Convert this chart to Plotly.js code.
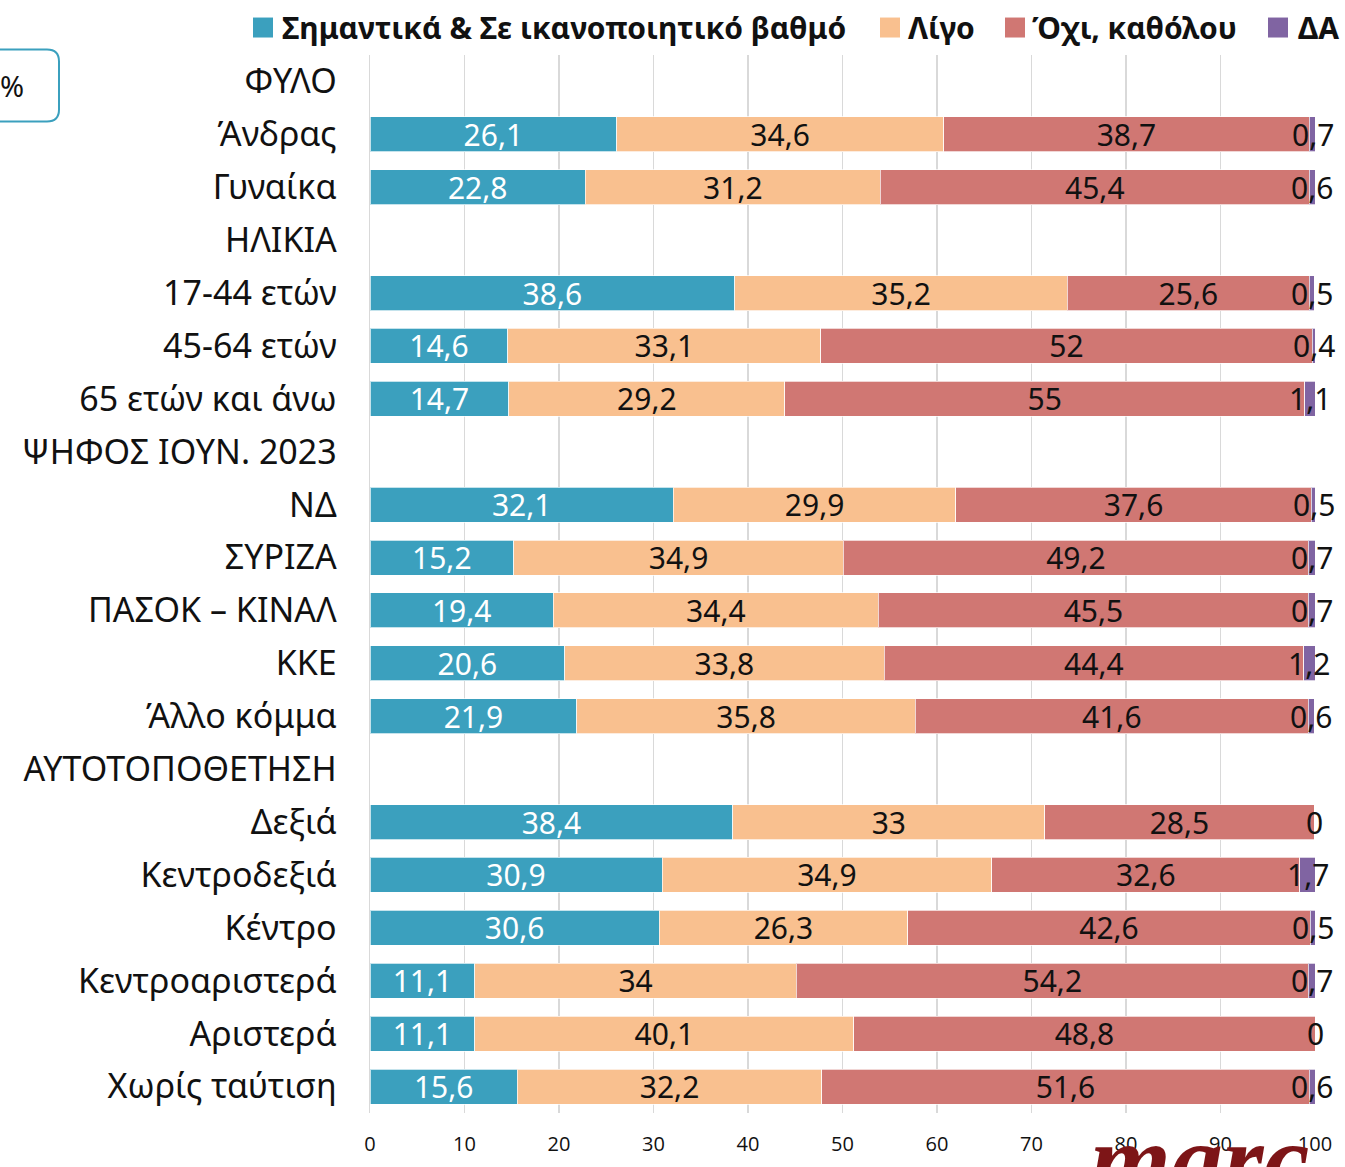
<!DOCTYPE html>
<html>
<head>
<meta charset="utf-8">
<script src="https://cdn.plot.ly/plotly-3.0.1.min.js"></script>
<style>html,body{margin:0;padding:0;background:#fff;}#chart{width:1345px;height:1167px;}</style>
</head>
<body>
<div id="chart"></div>
<script>
// ---- data ----
const categories = ["ΦΥΛΟ","Άνδρας","Γυναίκα","ΗΛΙΚΙΑ","17-44 ετών","45-64 ετών","65 ετών και άνω",
  "ΨΗΦΟΣ ΙΟΥΝ. 2023","ΝΔ","ΣΥΡΙΖΑ","ΠΑΣΟΚ – ΚΙΝΑΛ","ΚΚΕ","Άλλο κόμμα",
  "ΑΥΤΟΤΟΠΟΘΕΤΗΣΗ","Δεξιά","Κεντροδεξιά","Κέντρο","Κεντροαριστερά","Αριστερά","Χωρίς ταύτιση"];
const seriesNames = ["Σημαντικά & Σε ικανοποιητικό βαθμό","Λίγο","Όχι, καθόλου","ΔΑ"];
const significant = [null,26.1,22.8,null,38.6,14.6,14.7,null,32.1,15.2,19.4,20.6,21.9,null,38.4,30.9,30.6,11.1,11.1,15.6];
const little      = [null,34.6,31.2,null,35.2,33.1,29.2,null,29.9,34.9,34.4,33.8,35.8,null,33,34.9,26.3,34,40.1,32.2];
const notAtAll    = [null,38.7,45.4,null,25.6,52,55,null,37.6,49.2,45.5,44.4,41.6,null,28.5,32.6,42.6,54.2,48.8,51.6];
const dontKnow    = [null,0.7,0.6,null,0.5,0.4,1.1,null,0.5,0.7,0.7,1.2,0.6,null,0,1.7,0.5,0.7,0,0.6];
const xTicks = [0,10,20,30,40,50,60,70,80,90,100];

const colors = ["#3BA0BE","#F9C08F","#D07773","#8064A2"];
const fmt = v => (v === null ? "" : String(v).replace(".", ","));
const FONT = "Noto Sans, Open Sans, sans-serif";
const LABEL_SIZE = 30;

const seriesVals = [significant, little, notAtAll, dontKnow];
const traces = seriesVals.map((vals, i) => ({
  type: "bar",
  orientation: "h",
  name: seriesNames[i],
  y: categories,
  x: vals,
  marker: {color: colors[i], line: {color: "rgba(255,255,255,0.7)", width: 1}},
  text: i < 3 ? vals.map(fmt) : undefined,
  textposition: i < 3 ? "inside" : "none",
  insidetextanchor: "middle",
  textangle: 0,
  constraintext: "none",
  insidetextfont: {family: FONT, size: LABEL_SIZE, color: i === 0 ? "#ffffff" : "#111111"},
  showlegend: false,
  hoverinfo: "x+y+name"
}));

// layout helpers (pixel -> paper)
const L = 370, R = 30, T = 54.5, B = 53.5, W = 1345, H = 1167;
const pw = W - L - R, ph = H - T - B;
const px = x => (x - L) / pw;
const py = y => (H - B - y) / ph;

// manual legend
const legendItems = [
  {sq: 253, tx: 280},
  {sq: 880, tx: 906},
  {sq: 1005, tx: 1030},
  {sq: 1268, tx: 1296}
];
const shapes = legendItems.map((it, i) => ({
  type: "rect", xref: "paper", yref: "paper",
  x0: px(it.sq), x1: px(it.sq + 20), y0: py(37), y1: py(17),
  fillcolor: colors[i], line: {width: 0}
}));
// rounded "%" box
shapes.push({
  type: "path", xref: "paper", yref: "paper",
  xsizemode: "pixel", ysizemode: "pixel", xanchor: 0, yanchor: 1,
  path: "M -385,5.5 H -323 Q -311,5.5 -311,-6.5 V -54.5 Q -311,-66.5 -323,-66.5 H -385",
  line: {color: "#3BA0BE", width: 2}
});

const annotations = legendItems.map((it, i) => ({
  xref: "paper", yref: "paper", x: px(it.tx), y: py(27),
  xanchor: "left", yanchor: "middle", showarrow: false,
  text: "<b>" + seriesNames[i] + "</b>",
  font: {family: FONT, size: 30, color: "#111111"}
}));
// DA labels centred on the DA segment
categories.forEach((c, k) => {
  if (dontKnow[k] === null) return;
  annotations.push({
    xref: "x", yref: "y",
    x: significant[k] + little[k] + notAtAll[k] + dontKnow[k] / 2, y: c,
    text: fmt(dontKnow[k]), showarrow: false,
    xanchor: "center", yanchor: "middle",
    font: {family: FONT, size: LABEL_SIZE, color: "#111111"}
  });
});
annotations.push({
  xref: "paper", yref: "paper", x: px(26), y: py(85),
  xanchor: "right", yanchor: "middle", showarrow: false,
  text: "%", font: {family: FONT, size: 29, color: "#111111"}
});
annotations.push({
  xref: "paper", yref: "paper", x: px(1200), y: py(1160),
  xanchor: "center", yanchor: "middle", showarrow: false,
  text: "<b><i>marc</i></b>", font: {family: "Liberation Serif, DejaVu Serif, serif", size: 104, color: "#7D1517"}
});

const layout = {
  width: W, height: H,
  margin: {l: L, r: R, t: T, b: B, pad: 0},
  paper_bgcolor: "#ffffff", plot_bgcolor: "#ffffff",
  barmode: "stack", bargap: 0.34,
  xaxis: {
    range: [0, 100], tickvals: xTicks, ticktext: xTicks.map(String),
    showgrid: true, gridcolor: "#D9D9D9", gridwidth: 1.5,
    zeroline: false, showline: false, ticks: "",
    tickfont: {family: "Open Sans, sans-serif", size: 20, color: "#111111"},
    ticklabelstandoff: 17, fixedrange: true
  },
  yaxis: {
    type: "category", categoryarray: categories, categoryorder: "array",
    range: [categories.length - 0.5, -0.5],
    showgrid: false, zeroline: false,
    showline: true, linecolor: "#D9D9D9", linewidth: 1.5,
    ticks: "",
    tickfont: {family: FONT, size: 34, color: "#111111"},
    ticklabelstandoff: 25, fixedrange: true
  },
  shapes: shapes,
  annotations: annotations,
  showlegend: false
};

Plotly.newPlot("chart", traces, layout, {displayModeBar: false, staticPlot: true});
</script>
</body>
</html>
